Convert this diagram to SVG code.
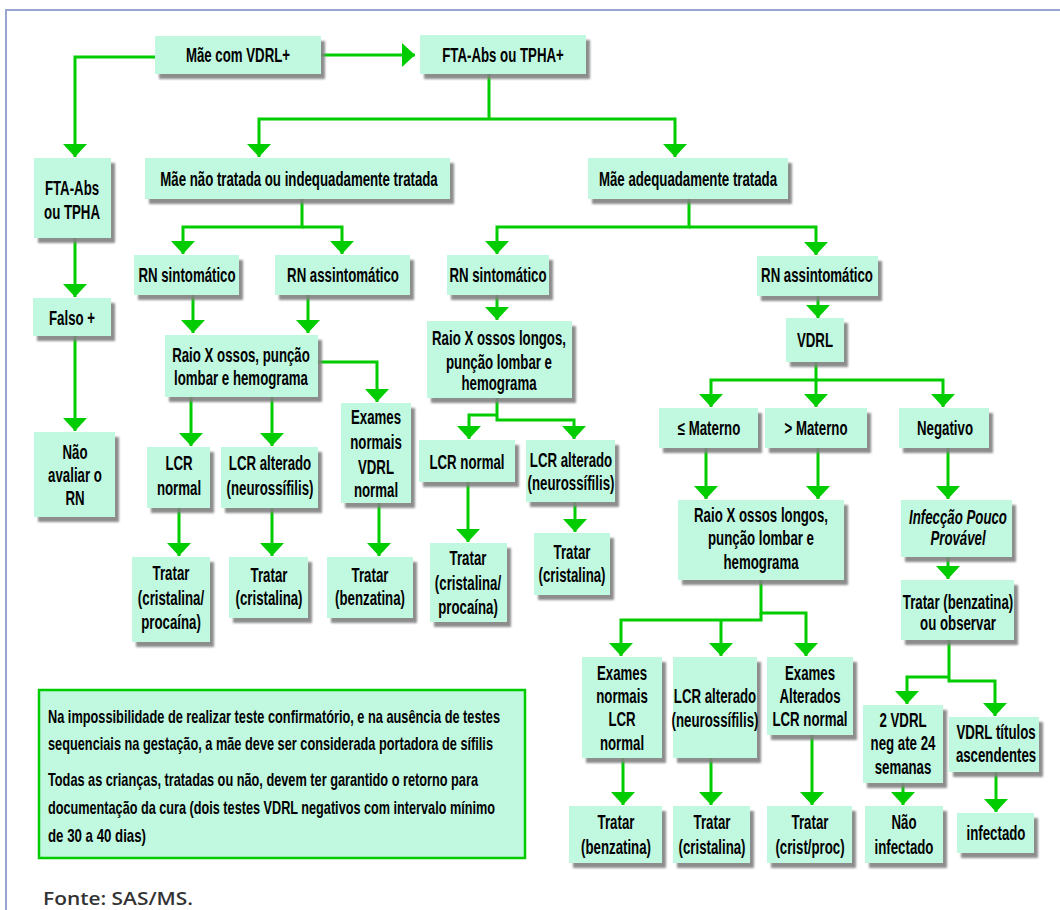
<svg xmlns="http://www.w3.org/2000/svg" width="1060" height="910" viewBox="0 0 1060 910">
<defs>
<style>
.b{fill:#c0f8e0;filter:url(#sh)}
.t{font-family:"Liberation Sans",Arial,sans-serif;font-weight:bold;font-size:19.5px;fill:#000;text-anchor:middle}
.i{font-style:italic}
.nt{font-family:"Liberation Sans",Arial,sans-serif;font-weight:bold;font-size:19px;fill:#000}
.c{fill:none;stroke:#00cc00;stroke-width:3;marker-end:url(#ah)}
.cn{fill:none;stroke:#00cc00;stroke-width:3}
</style>
<filter id="sh" x="-10%" y="-10%" width="130%" height="130%">
<feDropShadow dx="4" dy="5" stdDeviation="1" flood-color="#808080" flood-opacity="0.9"/>
</filter>
<marker id="ah" markerUnits="userSpaceOnUse" viewBox="0 0 13 24" refX="13" refY="12" markerWidth="13" markerHeight="24" orient="auto">
<path d="M0,0 L13,12 L0,24 Z" fill="#00cc00"/>
</marker>
</defs>
<rect width="1060" height="910" fill="#fff"/>
<path d="M6,910 V10 H1060" fill="none" stroke="#98a6cf" stroke-width="2"/>

<g id="connectors">
<path class="c" d="M321,55 H415"/>
<path class="c" d="M155,57 H75 V157"/>
<path class="c" d="M75,238 V297"/>
<path class="c" d="M75,336 V431"/>
<path class="cn" d="M489,74 V119"/>
<path class="c" d="M489,119 H259 V157"/>
<path class="c" d="M489,119 H675 V157"/>
<path class="c" d="M302,199 V227 H183 V254"/>
<path class="c" d="M302,227 H342 V254"/>
<path class="c" d="M689,199 V227 H497 V254"/>
<path class="c" d="M689,227 H816 V255"/>
<path class="c" d="M193,295 V333"/>
<path class="c" d="M308,295 V333"/>
<path class="c" d="M318,362 H377 V402"/>
<path class="c" d="M191,397 V446"/>
<path class="c" d="M272,397 V446"/>
<path class="c" d="M179,508 V556"/>
<path class="c" d="M272,508 V556"/>
<path class="c" d="M379,503 V556"/>
<path class="c" d="M497,295 V320"/>
<path class="c" d="M497,398 V420 H574 V439"/>
<path class="c" d="M497,415 H469 V439"/>
<path class="c" d="M468,482 V542"/>
<path class="c" d="M575,502 V532"/>
<path class="c" d="M818,296 V318"/>
<path class="c" d="M816,362 V380 H711 V407"/>
<path class="c" d="M816,380 V407"/>
<path class="c" d="M816,380 H943 V407"/>
<path class="c" d="M706,448 V499"/>
<path class="c" d="M818,448 V499"/>
<path class="c" d="M948,448 V499"/>
<path class="c" d="M948,557 V579"/>
<path class="c" d="M761,580 V613 H806 V656"/>
<path class="c" d="M761,613 V620 H621 V656"/>
<path class="c" d="M721,620 V656"/>
<path class="c" d="M623,758 V805"/>
<path class="c" d="M711,758 V805"/>
<path class="c" d="M812,735 V805"/>
<path class="c" d="M949,640 V681 H995 V716"/>
<path class="c" d="M949,677 H907 V704"/>
<path class="c" d="M903,783 V805"/>
<path class="c" d="M996,772 V812"/>
</g>

<g id="n1"><rect class="b" x="155" y="36" width="166" height="38"/><text class="t" transform="translate(238 0) scale(0.68 1)"><tspan x="0" y="62">Mãe com VDRL+</tspan></text></g>
<g id="n2"><rect class="b" x="420" y="35" width="166" height="39"/><text class="t" transform="translate(503 0) scale(0.68 1)"><tspan x="0" y="62">FTA-Abs ou TPHA+</tspan></text></g>
<g id="n3"><rect class="b" x="34" y="158" width="77" height="80"/><text class="t" transform="translate(72 0) scale(0.68 1)"><tspan x="0" y="195">FTA-Abs</tspan><tspan x="0" y="219">ou TPHA</tspan></text></g>
<g id="n4"><rect class="b" x="33" y="298" width="78" height="38"/><text class="t" transform="translate(72 0) scale(0.68 1)"><tspan x="0" y="325">Falso +</tspan></text></g>
<g id="n5"><rect class="b" x="34" y="432" width="81" height="85"/><text class="t" transform="translate(75 0) scale(0.68 1)"><tspan x="0" y="459">Não</tspan><tspan x="0" y="482">avaliar o</tspan><tspan x="0" y="505">RN</tspan></text></g>
<g id="n6"><rect class="b" x="145" y="158" width="305" height="41"/><text class="t" transform="translate(299 0) scale(0.68 1)"><tspan x="0" y="186">Mãe não tratada ou indequadamente tratada</tspan></text></g>
<g id="n7"><rect class="b" x="588" y="158" width="200" height="41"/><text class="t" transform="translate(688 0) scale(0.68 1)"><tspan x="0" y="186">Mãe adequadamente tratada</tspan></text></g>
<g id="n8"><rect class="b" x="134" y="255" width="105" height="40"/><text class="t" transform="translate(187 0) scale(0.68 1)"><tspan x="0" y="282">RN sintomático</tspan></text></g>
<g id="n9"><rect class="b" x="275" y="255" width="135" height="40"/><text class="t" transform="translate(343 0) scale(0.68 1)"><tspan x="0" y="282">RN assintomático</tspan></text></g>
<g id="n10"><rect class="b" x="447" y="255" width="102" height="40"/><text class="t" transform="translate(498 0) scale(0.68 1)"><tspan x="0" y="282">RN sintomático</tspan></text></g>
<g id="n11"><rect class="b" x="757" y="256" width="121" height="40"/><text class="t" transform="translate(817 0) scale(0.68 1)"><tspan x="0" y="282">RN assintomático</tspan></text></g>
<g id="n12"><rect class="b" x="165" y="335" width="153" height="62"/><text class="t" transform="translate(241 0) scale(0.68 1)"><tspan x="0" y="362">Raio X ossos, punção</tspan><tspan x="0" y="385">lombar e hemograma</tspan></text></g>
<g id="n13"><rect class="b" x="341" y="403" width="70" height="100"/><text class="t" transform="translate(376 0) scale(0.68 1)"><tspan x="0" y="424">Exames</tspan><tspan x="0" y="449">normais</tspan><tspan x="0" y="474">VDRL</tspan><tspan x="0" y="497">normal</tspan></text></g>
<g id="n14"><rect class="b" x="147" y="447" width="63" height="61"/><text class="t" transform="translate(179 0) scale(0.68 1)"><tspan x="0" y="470">LCR</tspan><tspan x="0" y="495">normal</tspan></text></g>
<g id="n15"><rect class="b" x="221" y="447" width="97" height="61"/><text class="t" transform="translate(270 0) scale(0.68 1)"><tspan x="0" y="470">LCR alterado</tspan><tspan x="0" y="495">(neurossífilis)</tspan></text></g>
<g id="n16"><rect class="b" x="132" y="557" width="78" height="85"/><text class="t" transform="translate(171 0) scale(0.68 1)"><tspan x="0" y="580">Tratar</tspan><tspan x="0" y="605">(cristalina/</tspan><tspan x="0" y="629">procaína)</tspan></text></g>
<g id="n17"><rect class="b" x="229" y="557" width="79" height="61"/><text class="t" transform="translate(269 0) scale(0.68 1)"><tspan x="0" y="582">Tratar</tspan><tspan x="0" y="605">(cristalina)</tspan></text></g>
<g id="n18"><rect class="b" x="327" y="557" width="86" height="61"/><text class="t" transform="translate(370 0) scale(0.68 1)"><tspan x="0" y="582">Tratar</tspan><tspan x="0" y="605">(benzatina)</tspan></text></g>
<g id="n19"><rect class="b" x="427" y="321" width="145" height="77"/><text class="t" transform="translate(499 0) scale(0.68 1)"><tspan x="0" y="345">Raio X ossos longos,</tspan><tspan x="0" y="369">punção lombar e</tspan><tspan x="0" y="390">hemograma</tspan></text></g>
<g id="n20"><rect class="b" x="419" y="440" width="96" height="42"/><text class="t" transform="translate(467 0) scale(0.68 1)"><tspan x="0" y="469">LCR normal</tspan></text></g>
<g id="n21"><rect class="b" x="526" y="440" width="89" height="62"/><text class="t" transform="translate(571 0) scale(0.68 1)"><tspan x="0" y="467">LCR alterado</tspan><tspan x="0" y="490">(neurossífilis)</tspan></text></g>
<g id="n22"><rect class="b" x="430" y="543" width="77" height="79"/><text class="t" transform="translate(468 0) scale(0.68 1)"><tspan x="0" y="565">Tratar</tspan><tspan x="0" y="590">(cristalina/</tspan><tspan x="0" y="614">procaína)</tspan></text></g>
<g id="n23"><rect class="b" x="534" y="533" width="76" height="62"/><text class="t" transform="translate(572 0) scale(0.68 1)"><tspan x="0" y="559">Tratar</tspan><tspan x="0" y="582">(cristalina)</tspan></text></g>
<g id="n24"><rect class="b" x="786" y="318" width="58" height="44"/><text class="t" transform="translate(815 0) scale(0.68 1)"><tspan x="0" y="347">VDRL</tspan></text></g>
<g id="n25"><rect class="b" x="659" y="408" width="99" height="40"/><text class="t" transform="translate(709 0) scale(0.68 1)"><tspan x="0" y="435">≤ Materno</tspan></text></g>
<g id="n26"><rect class="b" x="765" y="408" width="102" height="40"/><text class="t" transform="translate(816 0) scale(0.68 1)"><tspan x="0" y="435">&gt; Materno</tspan></text></g>
<g id="n27"><rect class="b" x="899" y="408" width="90" height="40"/><text class="t" transform="translate(945 0) scale(0.68 1)"><tspan x="0" y="435">Negativo</tspan></text></g>
<g id="n28"><rect class="b" x="678" y="500" width="166" height="80"/><text class="t" transform="translate(761 0) scale(0.68 1)"><tspan x="0" y="522">Raio X ossos longos,</tspan><tspan x="0" y="545">punção lombar e</tspan><tspan x="0" y="569">hemograma</tspan></text></g>
<g id="n29"><rect class="b" x="901" y="500" width="111" height="57"/><text class="t i" transform="translate(958 0) scale(0.68 1)"><tspan x="0" y="524">Infecção Pouco</tspan><tspan x="0" y="545">Provável</tspan></text></g>
<g id="n30"><rect class="b" x="901" y="580" width="113" height="60"/><text class="t" transform="translate(958 0) scale(0.68 1)"><tspan x="0" y="609">Tratar (benzatina)</tspan><tspan x="0" y="630">ou observar</tspan></text></g>
<g id="n31"><rect class="b" x="582" y="657" width="80" height="101"/><text class="t" transform="translate(622 0) scale(0.68 1)"><tspan x="0" y="680">Exames</tspan><tspan x="0" y="703">normais</tspan><tspan x="0" y="726">LCR</tspan><tspan x="0" y="750">normal</tspan></text></g>
<g id="n32"><rect class="b" x="673" y="657" width="84" height="101"/><text class="t" transform="translate(715 0) scale(0.68 1)"><tspan x="0" y="703">LCR alterado</tspan><tspan x="0" y="727">(neurossífilis)</tspan></text></g>
<g id="n33"><rect class="b" x="767" y="657" width="86" height="78"/><text class="t" transform="translate(810 0) scale(0.68 1)"><tspan x="0" y="680">Exames</tspan><tspan x="0" y="703">Alterados</tspan><tspan x="0" y="726">LCR normal</tspan></text></g>
<g id="n34"><rect class="b" x="569" y="806" width="93" height="57"/><text class="t" transform="translate(616 0) scale(0.68 1)"><tspan x="0" y="829">Tratar</tspan><tspan x="0" y="854">(benzatina)</tspan></text></g>
<g id="n35"><rect class="b" x="673" y="806" width="77" height="57"/><text class="t" transform="translate(712 0) scale(0.68 1)"><tspan x="0" y="829">Tratar</tspan><tspan x="0" y="854">(cristalina)</tspan></text></g>
<g id="n36"><rect class="b" x="767" y="806" width="85" height="57"/><text class="t" transform="translate(810 0) scale(0.68 1)"><tspan x="0" y="829">Tratar</tspan><tspan x="0" y="854">(crist/proc)</tspan></text></g>
<g id="n37"><rect class="b" x="863" y="705" width="80" height="78"/><text class="t" transform="translate(903 0) scale(0.68 1)"><tspan x="0" y="727">2 VDRL</tspan><tspan x="0" y="750">neg ate 24</tspan><tspan x="0" y="774">semanas</tspan></text></g>
<g id="n38"><rect class="b" x="949" y="717" width="90" height="55"/><text class="t" transform="translate(996 0) scale(0.68 1)"><tspan x="0" y="739">VDRL títulos</tspan><tspan x="0" y="762">ascendentes</tspan></text></g>
<g id="n39"><rect class="b" x="865" y="806" width="78" height="57"/><text class="t" transform="translate(904 0) scale(0.68 1)"><tspan x="0" y="829">Não</tspan><tspan x="0" y="854">infectado</tspan></text></g>
<g id="n40"><rect class="b" x="957" y="813" width="77" height="40"/><text class="t" transform="translate(996 0) scale(0.68 1)"><tspan x="0" y="840">infectado</tspan></text></g>

<g id="note">
<rect x="39" y="690" width="486" height="168" fill="#c0f8e0" stroke="#00cc00" stroke-width="2.5"/>
<text class="nt" x="48" y="723" textLength="452" lengthAdjust="spacingAndGlyphs">Na impossibilidade de realizar teste confirmatório, e na ausência de testes</text>
<text class="nt" x="48" y="750" textLength="445" lengthAdjust="spacingAndGlyphs">sequenciais na gestação, a mãe deve ser considerada portadora de sífilis</text>
<text class="nt" x="48" y="786" textLength="430" lengthAdjust="spacingAndGlyphs">Todas as crianças, tratadas ou não, devem ter garantido o retorno para</text>
<text class="nt" x="48" y="814" textLength="447" lengthAdjust="spacingAndGlyphs">documentação da cura (dois testes VDRL negativos com intervalo mínimo</text>
<text class="nt" x="48" y="842" textLength="98" lengthAdjust="spacingAndGlyphs">de 30 a 40 dias)</text>
</g>
<text x="43" y="905" font-family="'Open Sans','Liberation Sans',sans-serif" font-weight="600" font-size="18" fill="#333" textLength="150" lengthAdjust="spacingAndGlyphs">Fonte: SAS/MS.</text>
</svg>
